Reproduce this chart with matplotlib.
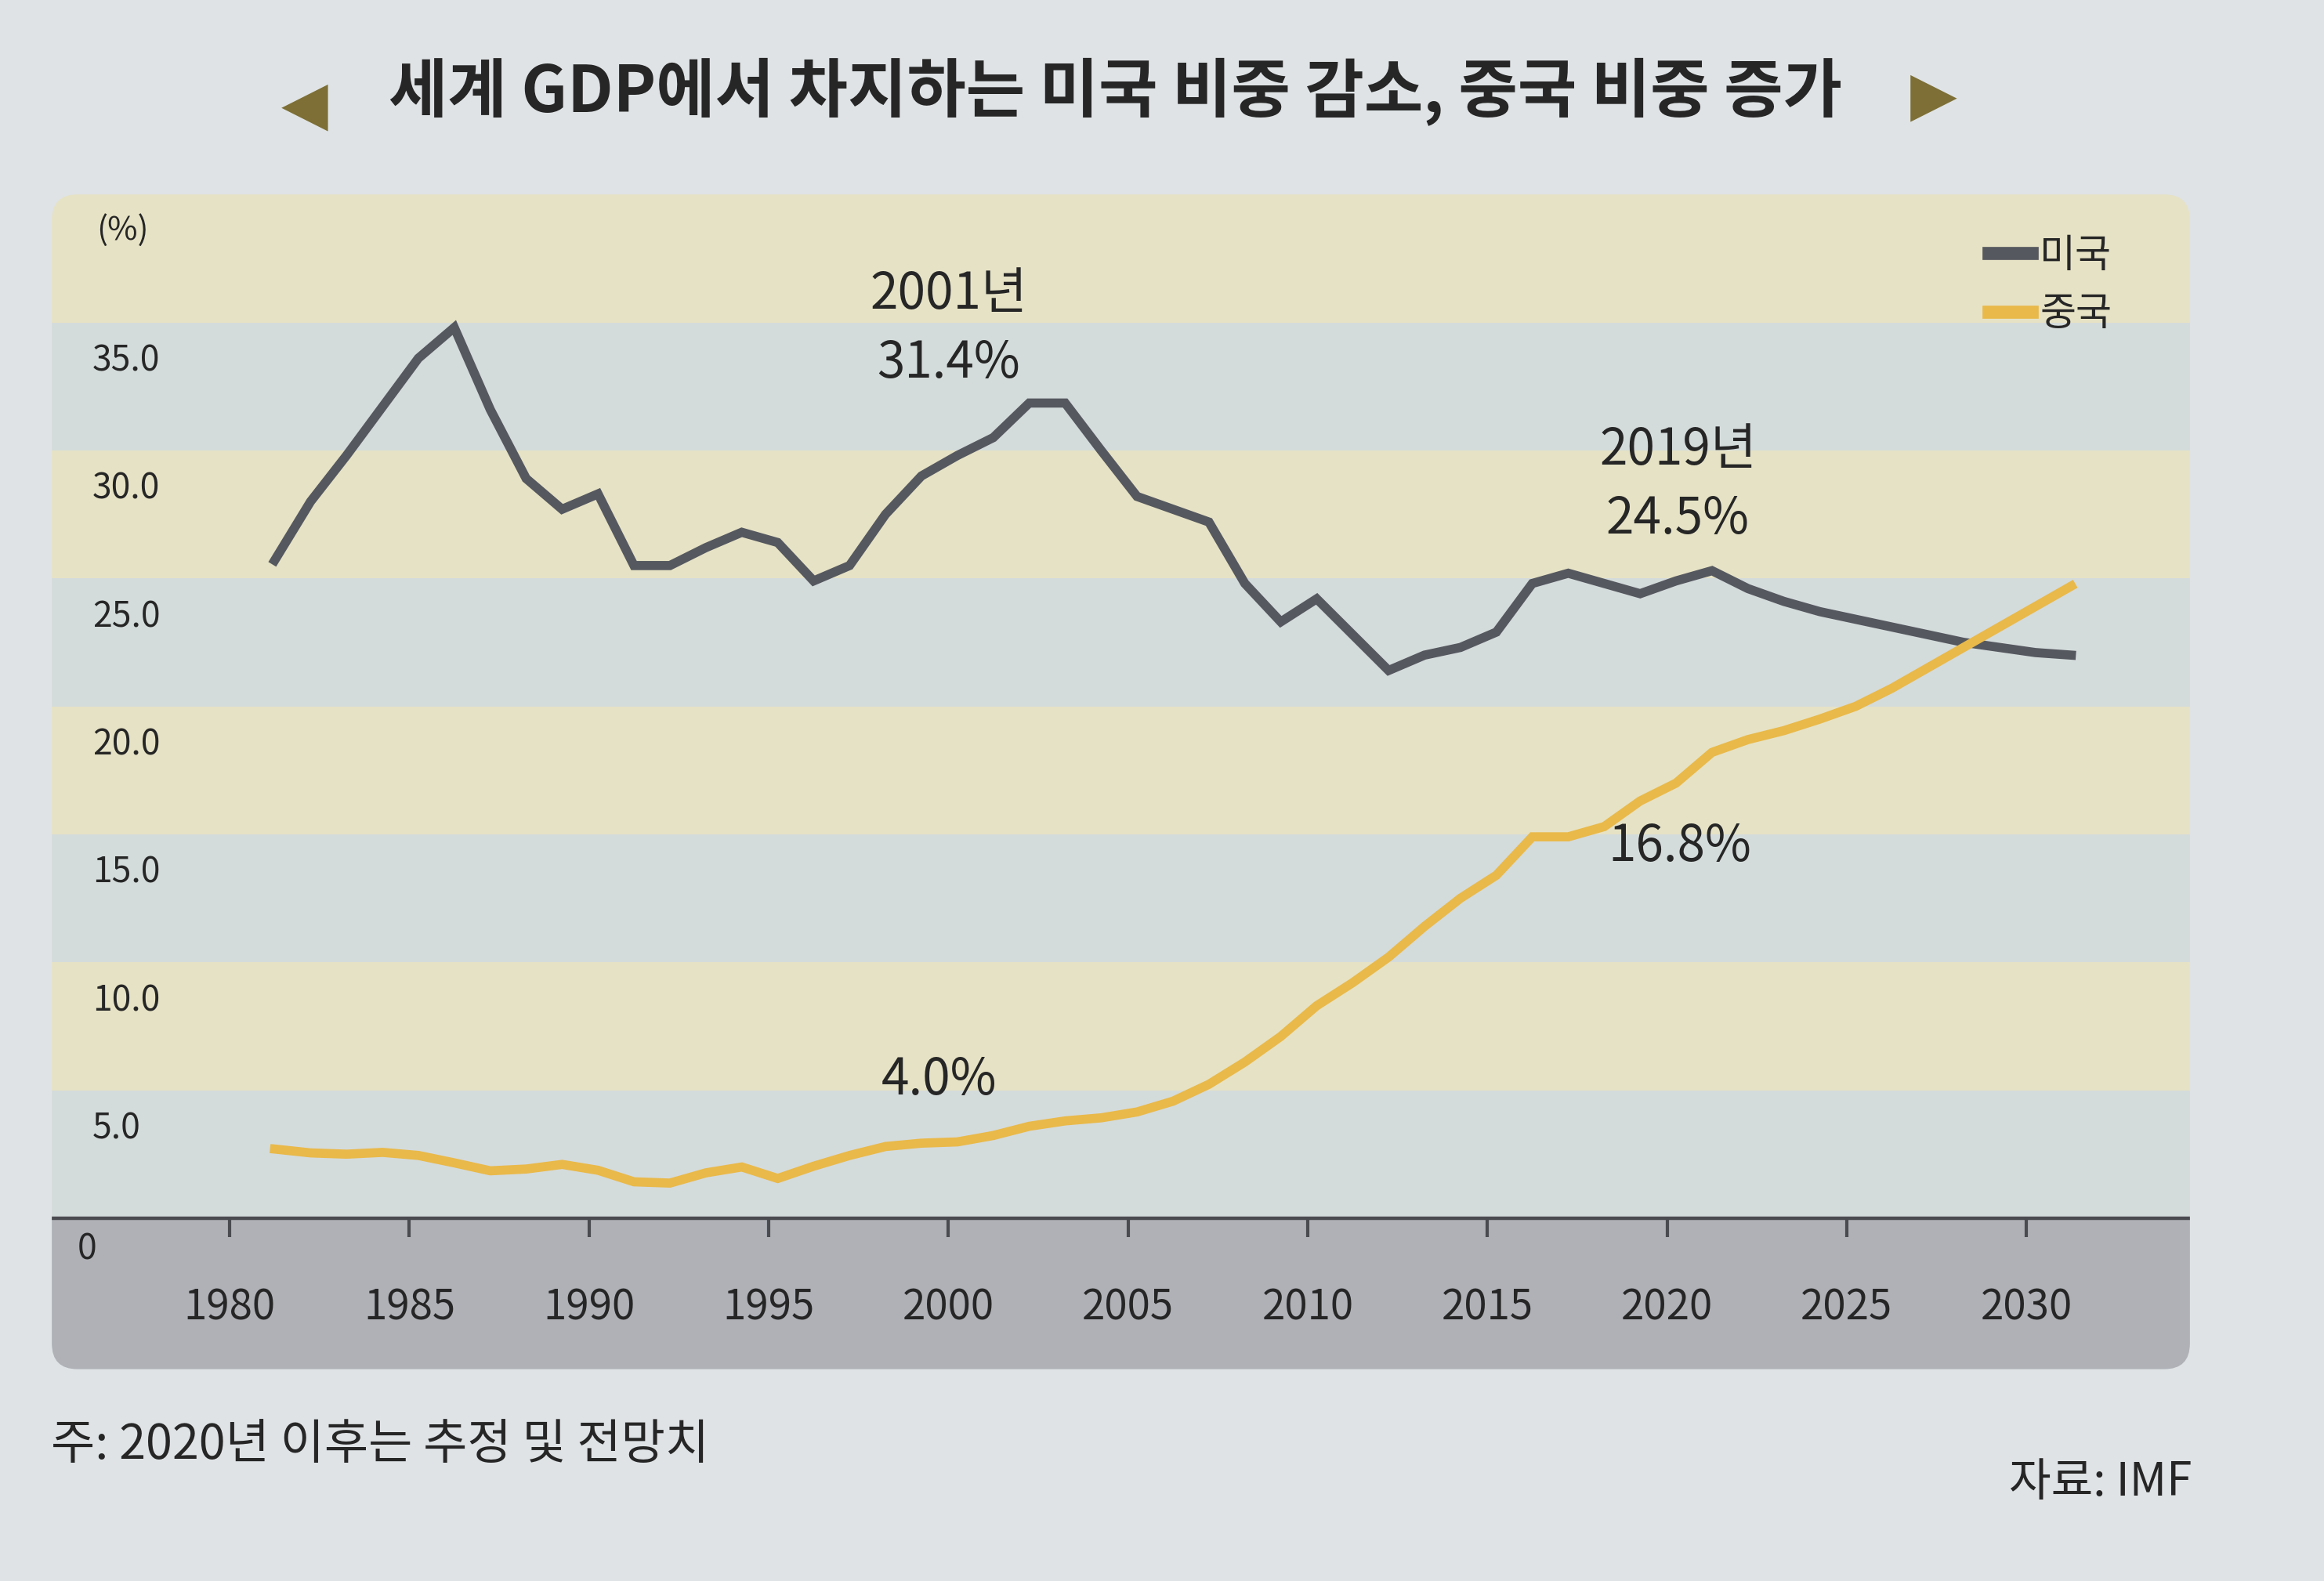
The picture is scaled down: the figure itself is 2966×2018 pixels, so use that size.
import matplotlib

matplotlib.use("Agg")
import matplotlib.pyplot as plt
import matplotlib.transforms as mtransforms
from matplotlib.patches import FancyBboxPatch
import numpy as np


years = list(range(1980, 2031))

# 세계 GDP에서 차지하는 비중 (%), 그림에서 읽은 값
usa_share = [
    25.7, 28.0, 29.8, 31.7, 33.6, 34.8, 31.6, 28.9, 27.7, 28.3,
    25.5, 25.5, 26.2, 26.8, 26.4, 24.9, 25.5, 27.5, 29.0, 29.8,
    30.5, 31.85, 31.85, 30.0, 28.2, 27.7, 27.2, 24.8, 23.3, 24.2,
    22.8, 21.4, 22.0, 22.3, 22.9, 24.8, 25.2, 24.8, 24.4, 24.9,
    25.3, 24.6, 24.1, 23.7, 23.4, 23.1, 22.8, 22.5, 22.3, 22.1, 22.0,
]
china_share = [
    2.7, 2.55, 2.5, 2.57, 2.45, 2.16, 1.85, 1.92, 2.1, 1.87,
    1.42, 1.37, 1.77, 2.0, 1.55, 2.03, 2.45, 2.8, 2.93, 2.98,
    3.23, 3.59, 3.8, 3.92, 4.15, 4.57, 5.23, 6.1, 7.1, 8.3,
    9.2, 10.2, 11.4, 12.5, 13.4, 14.9, 14.9, 15.3, 16.3, 17.0,
    18.2, 18.7, 19.05, 19.5, 20.0, 20.7, 21.5, 22.3, 23.1, 23.9, 24.7,
]

tick_years = [1980, 1985, 1990, 1995, 2000, 2005, 2010, 2015, 2020, 2025, 2030]
y_ticks = [5, 10, 15, 20, 25, 30, 35]

series_names = ["미국", "중국"]

# (텍스트, 연도, 값)
annotations = [
    ("2001년", 1998.75, 36.1),
    ("31.4%", 1998.75, 33.4),
    ("2019년", 2019.05, 30.0),
    ("24.5%", 2019.05, 27.3),
    ("16.8%", 2019.1, 14.5),
    ("4.0%", 1998.5, 5.4),
]

TITLE = "세계 GDP에서 차지하는 미국 비중 감소, 중국 비중 증가"
NOTE = "주: 2020년 이후는 추정 및 전망치"
SOURCE = "자료: IMF"

PAGE = "#dfe3e5"
BAND_YELLOW = "#e6e2c5"
BAND_BLUE = "#d4dbdb"
STRIP = "#afb1b7"
US_COLOR = "#55585f"
CN_COLOR = "#e9b949"
TEXT = "#262626"
ARROW = "#7d6f35"

KR = ["Noto Sans CJK KR", "DejaVu Sans"]
TICK_SHIFT = 1.25


def main():
    plt.rcParams["font.family"] = KR
    fig = plt.figure(figsize=(14.83, 10.09), dpi=200, facecolor=PAGE)
    ax = fig.add_axes([0.0223, 0.134, 0.920, 0.743])
    ax.patch.set_visible(False)
    ax.set_xlim(1973.8, 2033.3)
    ax.set_ylim(-5.9, 40)
    for side in ax.spines.values():
        side.set_visible(False)
    ax.set_xticks([])
    ax.set_yticks([])

    panel = FancyBboxPatch(
        (0, 0), 1, 1, boxstyle="round,pad=0,rounding_size=0.012",
        mutation_aspect=1443 / 793, transform=ax.transAxes,
        facecolor="none", edgecolor="none",
    )
    ax.add_patch(panel)

    for i, lo in enumerate(range(0, 40, 5)):
        band = ax.axhspan(lo, lo + 5, color=BAND_BLUE if i % 2 == 0 else BAND_YELLOW, lw=0, zorder=0)
        band.set_clip_path(panel)
    strip = ax.axhspan(-5.9, 0, color=STRIP, lw=0, zorder=0)
    strip.set_clip_path(panel)
    base = ax.axhline(0, color="#4a4b50", lw=1.6, zorder=1)
    base.set_clip_path(panel)

    tick_pos = np.array(tick_years) - TICK_SHIFT
    ax.vlines(tick_pos, -0.75, 0, color="#4a4b50", lw=1.5, zorder=1)
    for pos, yr in zip(tick_pos, tick_years):
        ax.text(pos, -3.5, str(yr), ha="center", va="center", fontsize=19, color=TEXT)

    ytrans = mtransforms.blended_transform_factory(ax.transAxes, ax.transData)
    for v in y_ticks:
        ax.text(0.019, v - 1.5, f"{v:.1f}", transform=ytrans, ha="left", va="center",
                fontsize=16, color=TEXT)
    ax.text(0.012, -1.2, "0", transform=ytrans, ha="left", va="center",
            fontsize=16, color=TEXT)
    ax.text(0.021, 38.6, "(%)", transform=ytrans, ha="left", va="center",
            fontsize=15, color=TEXT)

    ax.plot(years, usa_share, color=US_COLOR, lw=4.2, solid_joinstyle="miter",
            label=series_names[0], zorder=3)
    ax.plot(years, china_share, color=CN_COLOR, lw=4.2, solid_joinstyle="miter",
            label=series_names[1], zorder=3)

    for text, x, y in annotations:
        ax.text(x, y, text, ha="center", va="center", fontsize=23, color=TEXT)

    leg = ax.legend(
        loc="upper right", bbox_to_anchor=(0.98, 0.995), frameon=False,
        handlelength=1.1, handletextpad=0.2, labelspacing=0.45,
        prop={"family": KR, "size": 18},
    )
    for line in leg.get_lines():
        line.set_linewidth(6)
    for t in leg.get_texts():
        t.set_color(TEXT)

    fig.text(0.48, 0.942, TITLE, ha="center", va="center", fontsize=29.5,
             fontweight="bold", color=TEXT)
    fig.text(0.131, 0.933, "◀", ha="center", va="center", fontsize=28,
             color=ARROW, family=["DejaVu Sans"])
    fig.text(0.832, 0.939, "▶", ha="center", va="center", fontsize=28,
             color=ARROW, family=["DejaVu Sans"])

    fig.text(0.022, 0.086, NOTE, ha="left", va="center", fontsize=22, color=TEXT)
    fig.text(0.943, 0.062, SOURCE, ha="right", va="center", fontsize=21, color=TEXT)

    fig.savefig("out.png", dpi=200, facecolor=PAGE)
    plt.close(fig)


if __name__ == "__main__":
    main()
